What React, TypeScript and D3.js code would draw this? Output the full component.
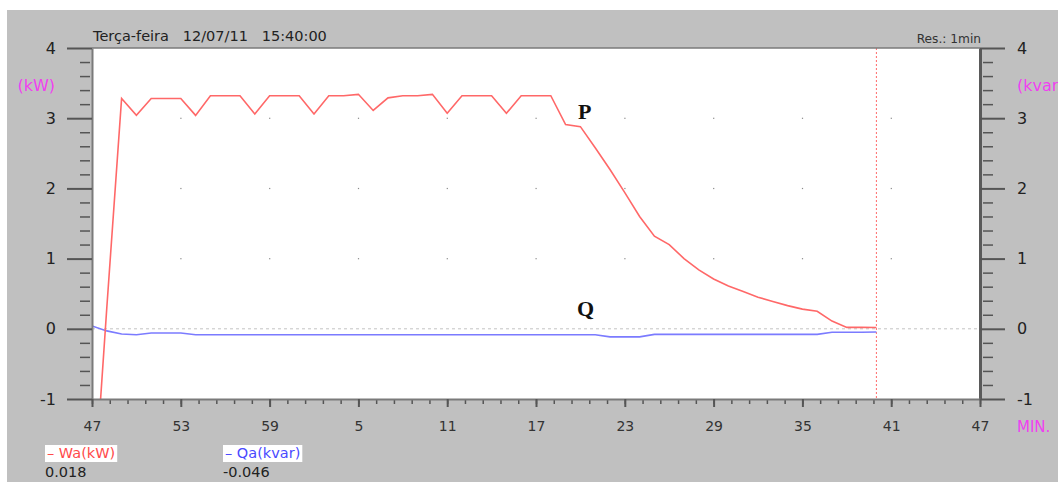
import React, { useEffect, useRef } from 'react';
import * as d3 from 'd3';

// minutes since 14:47 -> index of each value
const pValues = [
  -2.8, 0.3, 3.28, 3.04, 3.28, 3.28, 3.28, 3.04, 3.32, 3.32,
  3.32, 3.06, 3.32, 3.32, 3.32, 3.06, 3.32, 3.32, 3.34, 3.11,
  3.29, 3.32, 3.32, 3.34, 3.07, 3.32, 3.32, 3.32, 3.07, 3.32,
  3.32, 3.32, 2.91, 2.88, 2.58, 2.27, 1.94, 1.6, 1.32, 1.2,
  1.0, 0.84, 0.71, 0.61, 0.53, 0.45, 0.39, 0.33, 0.28, 0.25,
  0.11, 0.02, 0.02, 0.018
];

const qValues = [
  0.04, -0.03, -0.075, -0.085, -0.06, -0.06, -0.06, -0.085, -0.085, -0.085,
  -0.085, -0.085, -0.085, -0.085, -0.085, -0.085, -0.085, -0.085, -0.085, -0.085,
  -0.085, -0.085, -0.085, -0.085, -0.085, -0.085, -0.085, -0.085, -0.085, -0.085,
  -0.085, -0.085, -0.085, -0.085, -0.085, -0.115, -0.115, -0.115, -0.08, -0.08,
  -0.08, -0.08, -0.08, -0.08, -0.08, -0.08, -0.08, -0.08, -0.08, -0.08,
  -0.05, -0.05, -0.05, -0.046
];

const xTicks = [0, 6, 12, 18, 24, 30, 36, 42, 48, 54, 60];
const xTickLabels = ['47', '53', '59', '5', '11', '17', '23', '29', '35', '41', '47'];
const yTicks = [-1, 0, 1, 2, 3, 4];
const gridValues = [1, 2, 3];
const nowMinute = 53;

const titleText = 'Terça-feira   12/07/11   15:40:00';
const resText = 'Res.: 1min';
const legendLabels = ['– Wa(kW)', '– Qa(kvar)'];
const legendValues = ['0.018', '-0.046'];

export default function App() {
  const ref = useRef<SVGSVGElement>(null);

  useEffect(() => {
    if (!ref.current) return;
    const svg = d3.select(ref.current);
    svg.selectAll('*').remove();

    const width = 1058;
    const height = 482;
    const left = 92, right = 980, top = 48, bottom = 399;

    const x = d3.scaleLinear().domain([0, 60]).range([left, right]);
    const y = d3.scaleLinear().domain([-1, 4]).range([bottom, top]);

    // background
    svg.append('rect')
      .attr('x', 7).attr('y', 10)
      .attr('width', width - 7).attr('height', height - 10)
      .attr('fill', '#c0c0c0');

    svg.append('rect')
      .attr('x', left).attr('y', top)
      .attr('width', right - left).attr('height', bottom - top)
      .attr('fill', '#ffffff');

    // grid dots
    const dots: [number, number][] = [];
    xTicks.slice(1, -1).forEach(m => gridValues.forEach(v => dots.push([m, v])));
    svg.append('g').selectAll('rect')
      .data(dots)
      .enter()
      .append('rect')
      .attr('x', d => x(d[0]) - 0.5)
      .attr('y', d => y(d[1]) - 0.5)
      .attr('width', 1.2).attr('height', 1.2)
      .attr('fill', '#8a8a8a');

    // zero line
    svg.append('line')
      .attr('x1', left).attr('x2', right)
      .attr('y1', y(0)).attr('y2', y(0))
      .attr('stroke', '#c4c4c4')
      .attr('stroke-dasharray', '3,3');

    // current time marker
    svg.append('line')
      .attr('x1', x(nowMinute)).attr('x2', x(nowMinute))
      .attr('y1', top).attr('y2', bottom)
      .attr('stroke', '#ff6a6a')
      .attr('stroke-dasharray', '2,2');

    // data lines
    svg.append('clipPath').attr('id', 'plot-clip')
      .append('rect')
      .attr('x', left).attr('y', top)
      .attr('width', right - left).attr('height', bottom - top);

    const line = d3.line<number>()
      .x((_, i) => x(i))
      .y(d => y(d));

    svg.append('path')
      .datum(qValues)
      .attr('clip-path', 'url(#plot-clip)')
      .attr('d', line)
      .attr('fill', 'none')
      .attr('stroke', '#7b7bff')
      .attr('stroke-width', 1.6);

    svg.append('path')
      .datum(pValues)
      .attr('clip-path', 'url(#plot-clip)')
      .attr('d', line)
      .attr('fill', 'none')
      .attr('stroke', '#ff6868')
      .attr('stroke-width', 1.6);

    // top border
    svg.append('line')
      .attr('x1', left).attr('x2', right)
      .attr('y1', top).attr('y2', top)
      .attr('stroke', '#7a7a7a')
      .attr('stroke-width', 1.5);

    const styleAxis = (g: any, w: number, color: string) => {
      g.selectAll('.tick line').attr('stroke', color).attr('stroke-width', w);
      g.selectAll('text')
        .attr('fill', '#222')
        .style('font-family', '"DejaVu Sans", sans-serif');
    };

    const fmtY = (d: any) => String(d);

    // left axis
    const yMinor = y.ticks(25).filter(v => !Number.isInteger(Math.round(v * 100) / 100));
    const leftMinor = svg.append('g')
      .attr('transform', `translate(${left - 2},0)`)
      .call(d3.axisLeft(y).tickValues(yMinor).tickSize(10).tickSizeOuter(0).tickFormat(() => ''));
    leftMinor.select('.domain').remove();
    styleAxis(leftMinor, 1.5, '#555');

    const leftMajor = svg.append('g')
      .attr('transform', `translate(${left},0)`)
      .call(d3.axisLeft(y).tickValues(yTicks).tickSize(25).tickSizeOuter(0).tickPadding(11).tickFormat(fmtY));
    leftMajor.select('.domain').attr('stroke', '#7a7a7a').attr('stroke-width', 2);
    styleAxis(leftMajor, 2, '#555');
    leftMajor.selectAll('text').style('font-size', '16px');

    // right axis
    const rightMinor = svg.append('g')
      .attr('transform', `translate(${right + 3},0)`)
      .call(d3.axisRight(y).tickValues(yMinor).tickSize(10).tickSizeOuter(0).tickFormat(() => ''));
    rightMinor.select('.domain').remove();
    styleAxis(rightMinor, 1.5, '#555');

    const rightMajor = svg.append('g')
      .attr('transform', `translate(${right},0)`)
      .call(d3.axisRight(y).tickValues(yTicks).tickSize(25).tickSizeOuter(0).tickPadding(12).tickFormat(fmtY));
    rightMajor.select('.domain').attr('stroke', '#5a5a5a').attr('stroke-width', 3);
    styleAxis(rightMajor, 2, '#555');
    rightMajor.selectAll('text').style('font-size', '16px');

    // bottom axis
    const xMinor = d3.range(0, 60.01, 1.2);
    const bottomMinor = svg.append('g')
      .attr('transform', `translate(0,${bottom})`)
      .call(d3.axisBottom(x).tickValues(xMinor).tickSize(5).tickSizeOuter(0).tickFormat(() => ''));
    bottomMinor.select('.domain').remove();
    styleAxis(bottomMinor, 1.5, '#555');

    const bottomMajor = svg.append('g')
      .attr('transform', `translate(0,${bottom})`)
      .call(d3.axisBottom(x).tickValues(xTicks).tickSize(8).tickSizeOuter(0).tickPadding(14)
        .tickFormat((_, i) => xTickLabels[i]));
    bottomMajor.select('.domain').attr('stroke', '#7a7a7a').attr('stroke-width', 2);
    styleAxis(bottomMajor, 2, '#555');
    bottomMajor.selectAll('text').style('font-size', '14px').attr('fill', '#333');

    // unit labels
    const font = '"DejaVu Sans", sans-serif';
    svg.append('text')
      .attr('x', 55).attr('y', 85)
      .attr('text-anchor', 'end').attr('dominant-baseline', 'central')
      .style('font-family', font).style('font-size', '16px')
      .attr('fill', '#f040f0')
      .text('(kW)');
    // cut off by the right edge, as in the source screenshot
    svg.append('text')
      .attr('x', 1017).attr('y', 85)
      .attr('dominant-baseline', 'central')
      .style('font-family', font).style('font-size', '16px')
      .attr('fill', '#f040f0')
      .text('(kvar)');
    svg.append('text')
      .attr('x', 1017).attr('y', 432)
      .style('font-family', font).style('font-size', '15px')
      .attr('fill', '#f040f0')
      .text('MIN.');

    // header
    svg.append('text')
      .attr('x', 93).attr('y', 41)
      .style('font-family', font).style('font-size', '14.5px')
      .style('white-space', 'pre')
      .attr('fill', '#222')
      .text(titleText);
    svg.append('text')
      .attr('x', 981).attr('y', 43)
      .attr('text-anchor', 'end')
      .style('font-family', font).style('font-size', '12.2px')
      .attr('fill', '#333')
      .text(resText);

    // series labels
    svg.append('text')
      .attr('x', 578).attr('y', 119)
      .style('font-family', '"Liberation Serif", serif').style('font-size', '22px').style('font-weight', 'bold')
      .attr('fill', '#111')
      .text('P');
    svg.append('text')
      .attr('x', 577).attr('y', 316)
      .style('font-family', '"Liberation Serif", serif').style('font-size', '22px').style('font-weight', 'bold')
      .attr('fill', '#111')
      .text('Q');

    // legend
    const legendX = [45, 223];
    const legendColors = ['#ff4a4a', '#4a4aff'];
    legendLabels.forEach((label, i) => {
      const g = svg.append('g').attr('transform', `translate(${legendX[i]},0)`);
      const t = g.append('text')
        .attr('x', 2).attr('y', 458)
        .style('font-family', font).style('font-size', '14.5px')
        .attr('fill', legendColors[i])
        .text(label);
      const w = (t.node() as SVGTextElement).getComputedTextLength();
      g.insert('rect', 'text')
        .attr('x', 0).attr('y', 445)
        .attr('width', w + 4).attr('height', 17)
        .attr('fill', '#ffffff');
      g.append('text')
        .attr('x', 0).attr('y', 477)
        .style('font-family', font).style('font-size', '14.5px')
        .attr('fill', '#222')
        .text(legendValues[i]);
    });
  }, []);

  return (
    <svg
      ref={ref}
      width={1058}
      height={482}
      style={{ position: 'absolute', left: 0, top: 0, background: '#ffffff' }}
    />
  );
}
